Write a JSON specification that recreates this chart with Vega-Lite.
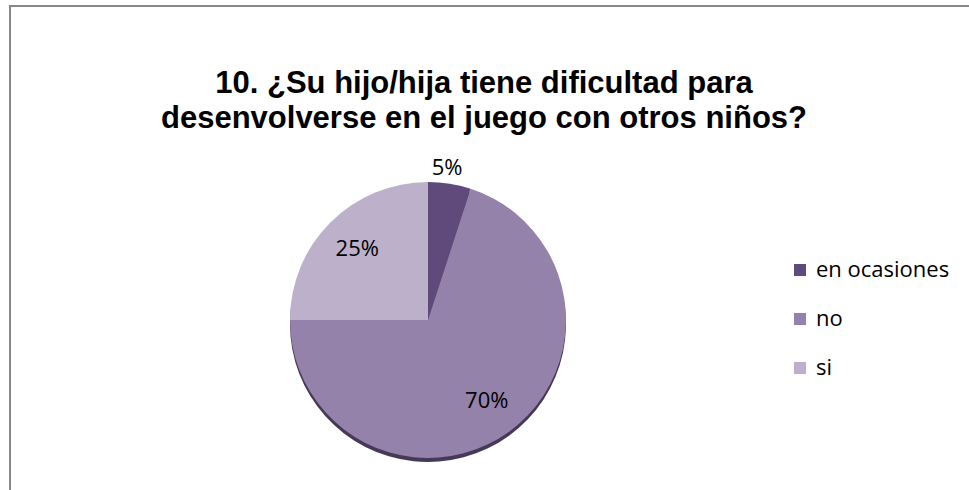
{
  "$schema": "https://vega.github.io/schema/vega-lite/v6.json",
  "autosize": {"type": "none"},
  "padding": {"left": 10, "top": 6, "right": 0, "bottom": 0},
  "width": 975,
  "height": 500,
  "background": "white",
  "config": {"view": {"stroke": "#878787", "strokeWidth": 2}},
  "title": {
    "text": ["10. ¿Su hijo/hija tiene dificultad para", "desenvolverse en el juego con otros niños?"],
    "font": "Liberation Sans",
    "fontSize": 31,
    "fontWeight": "bold",
    "color": "#000000",
    "anchor": "middle",
    "baseline": "alphabetic",
    "offset": 0,
    "dy": 153,
    "dx": -13.5,
    "lineHeight": 35
  },
  "data": {
    "values": [
      {"respuesta": "en ocasiones", "pct": 0.05},
      {"respuesta": "no", "pct": 0.70},
      {"respuesta": "si", "pct": 0.25}
    ]
  },
  "encoding": {
    "theta": {"field": "pct", "type": "quantitative", "stack": true},
    "order": {"field": "respuesta", "type": "nominal", "sort": "ascending"},
    "x": {"datum": 0.4287, "type": "quantitative", "scale": {"domain": [0, 1]}, "axis": null},
    "y": {"datum": 0.372, "type": "quantitative", "scale": {"domain": [0, 1]}, "axis": null}
  },
  "layer": [
    {
      "mark": {"type": "arc", "outerRadius": 138},
      "encoding": {
        "y": {"datum": 0.364, "type": "quantitative", "scale": {"domain": [0, 1]}, "axis": null},
        "color": {"value": "#463857"}
      }
    },
    {
      "mark": {"type": "arc", "outerRadius": 138},
      "encoding": {
        "color": {
          "field": "respuesta",
          "type": "nominal",
          "scale": {"domain": ["en ocasiones", "no", "si"], "range": ["#604a7b", "#9482ab", "#bcb0cb"]},
          "legend": {
            "orient": "none",
            "legendX": 779,
            "legendY": 253,
            "title": null,
            "symbolType": "square",
            "symbolSize": 144,
            "symbolStrokeWidth": 0,
            "labelFont": "Open Sans",
            "labelFontSize": 22,
            "labelColor": "#000000",
            "labelOffset": 5,
            "rowPadding": 27,
            "padding": 0
          }
        }
      }
    },
    {
      "mark": {"type": "text", "radius": 100, "font": "Open Sans", "fontSize": 22, "color": "#000000", "baseline": "middle", "align": "center"},
      "encoding": {
        "text": {"condition": {"test": "datum.respuesta !== 'en ocasiones'", "field": "pct", "type": "quantitative", "format": ".0%"}, "value": ""}
      }
    },
    {
      "mark": {"type": "text", "radius": 154, "dx": -5, "font": "Open Sans", "fontSize": 22, "color": "#000000", "baseline": "middle", "align": "center"},
      "encoding": {
        "text": {"condition": {"test": "datum.respuesta === 'en ocasiones'", "field": "pct", "type": "quantitative", "format": ".0%"}, "value": ""}
      }
    }
  ]
}
